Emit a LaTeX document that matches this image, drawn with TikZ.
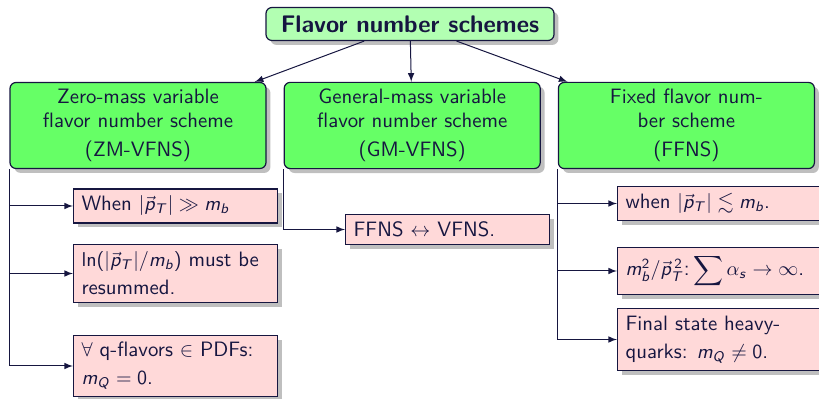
\documentclass[tikz,border=0pt]{standalone}
\usepackage{amsmath}
\usepackage{amssymb}
\usetikzlibrary{arrows,shapes,shadows,positioning}
\renewcommand{\familydefault}{\sfdefault}
% sans serif math, as on the slide
\DeclareSymbolFont{operators}{OT1}{cmss}{m}{n}
\DeclareSymbolFont{sfletters}{OT1}{cmss}{m}{sl}
\DeclareMathSymbol{m}{\mathalpha}{sfletters}{`m}
\DeclareMathSymbol{b}{\mathalpha}{sfletters}{`b}
\DeclareMathSymbol{p}{\mathalpha}{sfletters}{`p}
\DeclareMathSymbol{s}{\mathalpha}{sfletters}{`s}
\DeclareMathSymbol{T}{\mathalpha}{sfletters}{`T}
\DeclareMathSymbol{Q}{\mathalpha}{sfletters}{`Q}
\definecolor{ink}{RGB}{22,22,64}
\tikzset{
  shade box/.style={drop shadow={shadow xshift=2.2pt,shadow yshift=-2.2pt,
      fill=black!25,opacity=1}},
  root/.style={draw=ink,line width=.6pt,rounded corners=3pt,fill=green!30,
    minimum width=144pt,minimum height=16.5pt,text=ink,shade box,
    font=\fontsize{12}{14}\selectfont\bfseries},
  scheme/.style={draw=ink,line width=.6pt,rounded corners=3pt,fill=green!60,
    minimum width=128pt,minimum height=42.5pt,text width=120pt,
    align=center,text=ink,shade box,font=\fontsize{10.4}{12}\selectfont},
  fact/.style={draw=ink,line width=.6pt,fill=red!15,text width=94pt,
    inner xsep=4pt,inner ysep=3.5pt,align=justify,text=ink,shade box,
    font=\fontsize{10.4}{14}\selectfont,anchor=west},
  link/.style={draw=ink,line width=.5pt,->,>=latex}
}
\begin{document}
\begin{tikzpicture}[x=0.5pt,y=-0.5pt]
  \useasboundingbox (0,0) rectangle (819,399);
  \node [root] (fns) at (410,24) {Flavor number schemes};
  \node [scheme] (zm) at (138,125.5)
  {Zero-mass variable\\ flavor number scheme\\[2.5pt] (ZM-VFNS)};
  \node [scheme,right=8.5pt of zm] (gm)
  {General-mass variable\\ flavor number scheme\\[2.5pt] (GM-VFNS)};
  \node [scheme,right=8.5pt of gm] (ff)
  {Fixed flavor num-\\ ber scheme\\[2.5pt] (FFNS)};
  \draw[link] (fns) -- (zm);
  \draw[link] (fns) -- (gm);
  \draw[link] (fns) -- (ff);
  % zero-mass scheme
  \node [fact] (zmlarge) at (73,206) {When $|\vec{p}_T| \gg m_b$};
  \node [fact] (zmlog) at (73,273.5)
  {$\ln(|\vec{p}_T|/m_b)$ must be\\ resummed.};
  \node [fact] (zmmass) at (73,366)
  {$\forall$ q-flavors $\in$ PDFs:\\ $m_Q=0$.};
  \draw[link] (zm.south west) |- (zmlarge.west);
  \draw[link] (zm.south west) |- (zmlog.west);
  \draw[link] (zm.south west) |- (zmmass.west);
  % general-mass scheme
  \node [fact] (gmswitch) at (345,229.5) {FFNS $\leftrightarrow$ VFNS.};
  \draw[link] (gm.south west) |- (gmswitch.west);
  % fixed flavor scheme
  \node [fact] (ffsmall) at (617,203.5) {when $|\vec{p}_T| \lesssim m_b$.};
  \node [fact] (fflog) at (617,271)
  {$m_b^2/\vec{p}_T^{\,2}$:\,$\displaystyle\sum\alpha_s\to\infty$.};
  \node [fact] (ffheavy) at (617,339.5)
  {Final state heavy-\\ quarks: $m_Q\neq 0$.};
  \draw[link] (ff.south west) |- (ffsmall.west);
  \draw[link] (ff.south west) |- (fflog.west);
  \draw[link] (ff.south west) |- (ffheavy.west);
\end{tikzpicture}
\end{document}
